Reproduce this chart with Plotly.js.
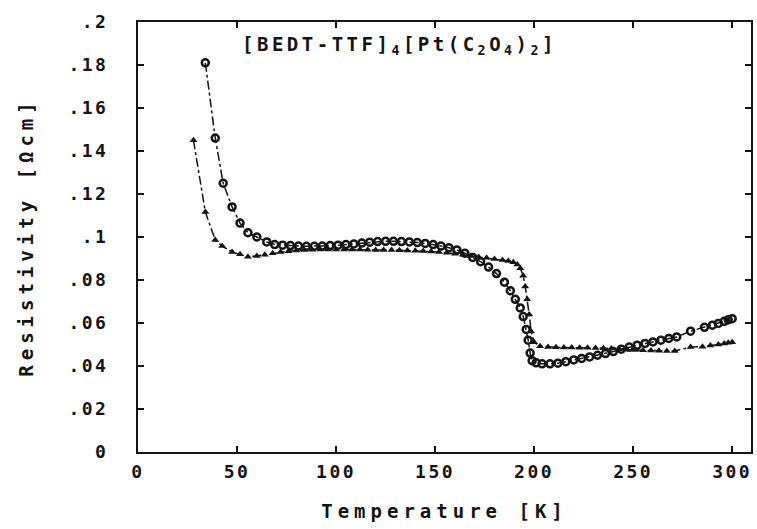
<!DOCTYPE html>
<html>
<head>
<meta charset="utf-8">
<script src="https://cdn.plot.ly/plotly-3.0.1.min.js"></script>
<style>
  html, body { margin: 0; padding: 0; background: #fff; }
  #chart { width: 757px; height: 529px; }
  .xtick text, .ytick text { letter-spacing: 2.5px; }
  .g-xtitle text, .g-ytitle text { letter-spacing: 5px; }
  .annotation-text { letter-spacing: 3.5px; }
</style>
</head>
<body>
<div id="chart"></div>
<script>
// Series with circle markers
const tempCircles = [34, 39, 43, 47.5, 51.5, 55.5, 60, 65, 69, 73,
  77, 81, 85, 89, 93, 97, 101, 105, 109, 113,
  117, 121, 125, 129, 133, 137, 141, 145, 149, 153,
  157, 161, 165, 169, 173, 177, 181, 185, 188, 190.5,
  193, 194.5, 196, 197, 198, 199, 201, 204, 208, 212,
  216, 220, 224, 228, 232, 236, 240, 244, 248, 252,
  256, 260, 264, 268, 272, 279, 286, 290, 293, 296,
  298, 300];
const rhoCircles = [.181, .146, .125, .114, .1065, .102, .100, .0977, .0965, .0962,
  .096, .0958, .0957, .0957, .0958, .096, .0962, .0965, .0968, .0972,
  .0976, .0979, .098, .098, .0979, .0977, .0974, .097, .0965, .0958,
  .095, .094, .0925, .0905, .0885, .086, .083, .079, .075, .071,
  .067, .063, .057, .052, .046, .0425, .0415, .041, .041, .0413,
  .042, .0428, .0435, .0442, .045, .0458, .0467, .0478, .0488, .0497,
  .0505, .0512, .052, .0528, .0535, .0562, .058, .059, .0598, .0608,
  .0615, .062];

// Series with triangle markers
const tempTriangles = [28, 34, 39, 42.5, 47.5, 51.5, 55.5, 60, 64, 68,
  72, 76, 80, 84, 88, 92, 96, 100, 104, 108,
  112, 116, 120, 124, 128, 132, 136, 140, 144, 148,
  152, 156, 160, 164, 168, 172, 176, 180, 184, 187,
  189.5, 191.5, 193, 194.5, 195.5, 196.5, 197.5, 198.5, 200, 203,
  207, 211, 215, 219, 223, 227, 231, 235, 239, 243,
  247, 251, 255, 259, 263, 267, 271, 279, 285, 289,
  293, 296, 298, 300];
const rhoTriangles = [.145, .1116, .0986, .0958, .093, .092, .0908, .0912, .0918, .0924,
  .093, .0934, .0937, .094, .0941, .0942, .0942, .0942, .0942, .0942,
  .0942, .0941, .094, .094, .0939, .0938, .0937, .0936, .0935, .0933,
  .093, .0927, .0922, .0917, .0912, .0907, .0903, .0898, .0893, .0888,
  .0882, .0872, .0855, .082, .077, .071, .064, .056, .051, .0492,
  .0488, .0487, .0486, .0486, .0485, .0485, .0484, .0483, .0481, .0478,
  .0476, .0474, .0473, .0472, .0471, .047, .047, .0488, .049, .0495,
  .05, .0505, .0508, .051];

// Tick labels
const xTickVals = [0, 50, 100, 150, 200, 250, 300];
const xTickText = ['0', '50', '100', '150', '200', '250', '300'];
const yTickVals = [0, .02, .04, .06, .08, .1, .12, .14, .16, .18, .2];
const yTickText = ['0', '.02', '.04', '.06', '.08', '.1', '.12', '.14', '.16', '.18', '.2'];

const compoundLabel = '[BEDT-TTF]<sub>4</sub>[Pt(C<sub>2</sub>O<sub>4</sub>)<sub>2</sub>]';

const FONT = 'DejaVu Sans Mono, Liberation Mono, monospace';
const INK = '#141414';

const traces = [
  {
    x: tempCircles, y: rhoCircles, type: 'scatter', mode: 'lines+markers',
    line: { color: INK, width: 1.5, dash: 'dashdot' },
    marker: { symbol: 'circle-open', size: 7, color: INK, line: { width: 2.5, color: INK } },
    showlegend: false, hoverinfo: 'skip'
  },
  {
    x: tempTriangles, y: rhoTriangles, type: 'scatter', mode: 'lines+markers',
    line: { color: INK, width: 1.5, dash: 'dashdot' },
    marker: { symbol: 'triangle-up', size: 7, color: INK },
    showlegend: false, hoverinfo: 'skip'
  }
];

const axisCommon = {
  showgrid: false, zeroline: false,
  showline: true, linecolor: INK, linewidth: 2, mirror: 'ticks',
  ticks: 'inside', ticklen: 6, tickwidth: 1.5, tickcolor: INK,
  tickfont: { family: FONT, size: 18, color: INK, weight: 'bold' }
};

const layout = {
  width: 757, height: 529,
  margin: { l: 138, r: 6, t: 22, b: 77 },
  paper_bgcolor: '#fff', plot_bgcolor: '#fff',
  showlegend: false,
  xaxis: Object.assign({}, axisCommon, {
    range: [0, 309.5], tickmode: 'array', tickvals: xTickVals, ticktext: xTickText,
    ticklabelstandoff: 2,
    title: { text: 'Temperature [K]', font: { family: FONT, size: 19, color: INK, weight: 'bold' }, standoff: 24 }
  }),
  yaxis: Object.assign({}, axisCommon, {
    range: [0, 0.2], tickmode: 'array', tickvals: yTickVals, ticktext: yTickText,
    ticklabelstandoff: 24,
    title: { text: 'Resistivity [Ωcm]', font: { family: FONT, size: 19, color: INK, weight: 'bold' }, standoff: 30 }
  }),
  annotations: [{
    text: compoundLabel, xref: 'paper', yref: 'paper',
    x: 0.166, y: 0.946, xanchor: 'left', yanchor: 'middle', showarrow: false,
    font: { family: FONT, size: 19, color: INK, weight: 'bold' }
  }]
};

Plotly.newPlot('chart', traces, layout, { staticPlot: true, displayModeBar: false });
</script>
</body>
</html>
